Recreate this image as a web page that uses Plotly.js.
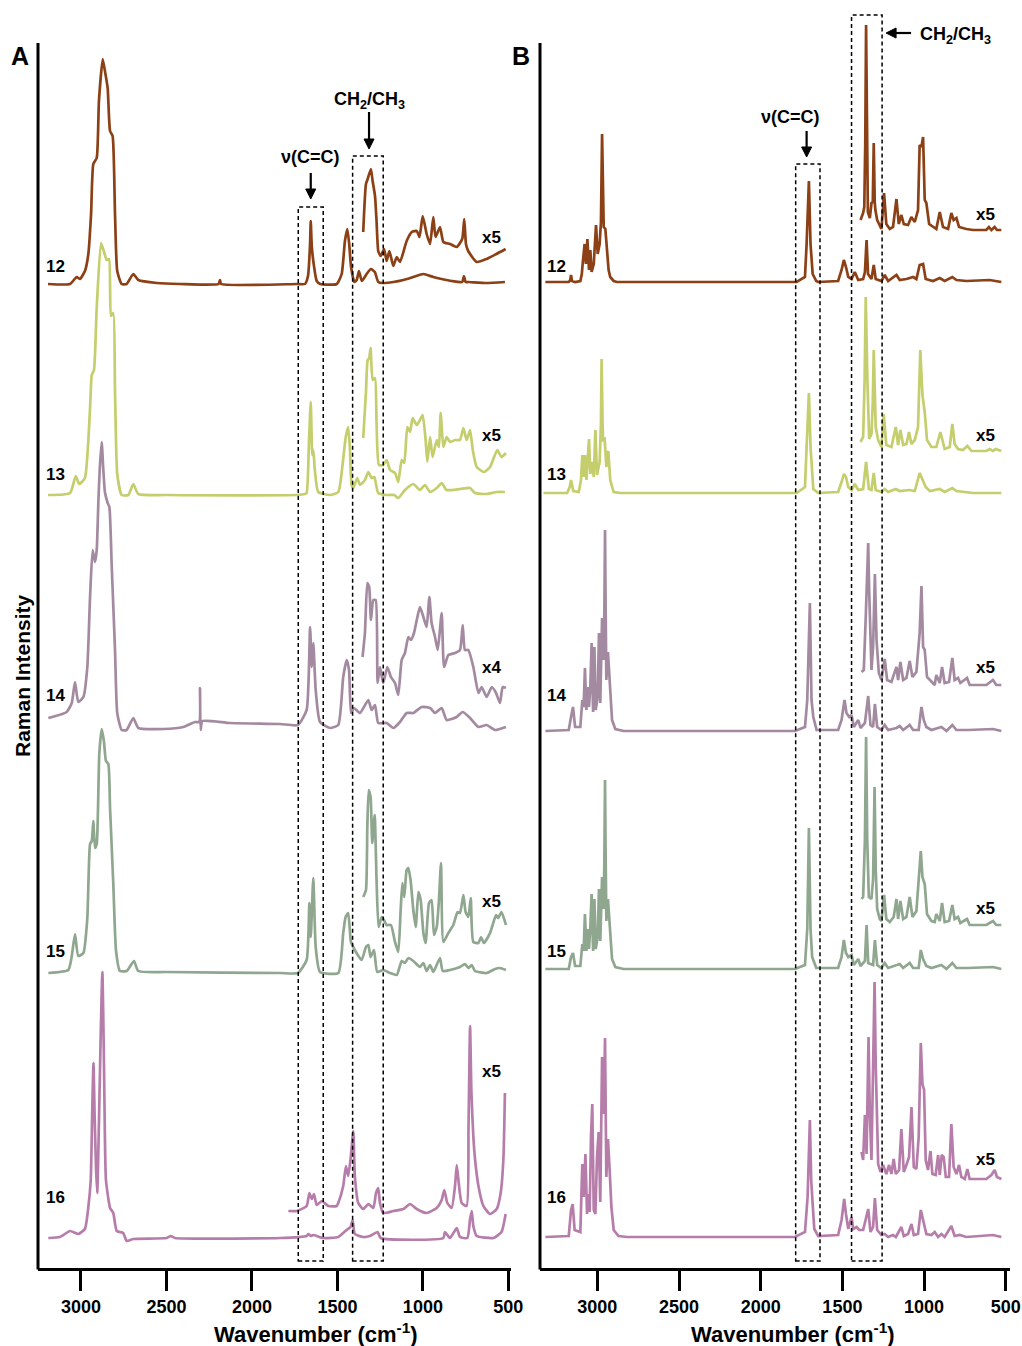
<!DOCTYPE html>
<html>
<head>
<meta charset="utf-8">
<script src="https://cdn.plot.ly/plotly-3.0.1.min.js"></script>
<style>html,body{margin:0;padding:0;background:#fff;}#chart{width:1022px;height:1346px;}</style>
</head>
<body>
<div id="chart"></div>
<script>
// ---------- DATA : [wavenumber (cm-1), intensity above baseline (a.u.)] ----------
const spectraNames = ["12", "13", "14", "15", "16"];
const spectraColors = ["#8c4015", "#c4ce6c", "#a38aa0", "#8fa68f", "#b77daa"];
const scaleLabelsA = ["x5", "x5", "x4", "x5", "x5"];
const scaleLabelsB = ["x5", "x5", "x5", "x5", "x5"];
const baselinesA = [984, 773, 538, 295, 30];
const baselinesB = [986, 775, 537, 299, 31];
const xTicks = [3000, 2500, 2000, 1500, 1000, 500];

// Panel A
const A12 = [[3193,0],[3064,0],[3025,7],[3006,5],[2977,13],[2957,30],[2941,70],[2928,120],[2908,126],[2895,183],[2873,225],[2860,213],[2844,196],[2830,153],[2815,148],[2801,70],[2788,13],[2762,0],[2733,0],[2694,10],[2665,4],[2557,1],[2421,0],[2195,0],[2187,4],[2180,0],[1737,0],[1690,0],[1672,8],[1660,40],[1656,63],[1650,38],[1641,23],[1621,3],[1600,0],[1504,0],[1475,10],[1456,43],[1442,55],[1431,40],[1420,17],[1401,2],[1387,4],[1374,13],[1357,3],[1329,10],[1304,15],[1281,12],[1261,2],[1233,1],[1173,2],[1114,4],[1056,7],[997,10],[939,7],[890,5],[832,3],[770,2],[760,8],[750,2],[735,2],[627,1],[520,2]];
const A12x = [[1349,52],[1333,100],[1323,105],[1304,115],[1294,103],[1280,88],[1271,63],[1261,33],[1247,28],[1227,35],[1212,23],[1196,33],[1173,18],[1153,27],[1134,22],[1095,43],[1065,52],[1036,53],[1020,47],[1001,68],[978,50],[958,40],[939,67],[926,47],[900,57],[880,42],[841,40],[802,37],[770,45],[758,65],[748,40],[735,33],[685,22],[627,25],[570,30],[516,35]];
const A13 = [[3193,0],[3064,2],[3031,19],[3010,11],[2977,17],[2947,87],[2937,120],[2924,125],[2908,187],[2883,252],[2865,243],[2850,235],[2836,236],[2825,179],[2811,182],[2801,104],[2788,21],[2762,0],[2723,0],[2694,11],[2665,1],[2500,0],[1740,0],[1690,1],[1680,2],[1666,55],[1656,93],[1647,40],[1641,45],[1631,23],[1612,3],[1544,0],[1495,3],[1470,30],[1452,57],[1437,68],[1427,47],[1417,10],[1407,7],[1384,17],[1368,10],[1339,15],[1319,23],[1300,17],[1284,18],[1261,2],[1212,0],[1167,0],[1144,-3],[1105,5],[1056,11],[1017,5],[988,10],[958,3],[919,7],[890,12],[861,5],[783,6],[724,7],[695,2],[627,1],[568,3],[520,3]];
const A13x = [[1349,57],[1333,103],[1323,135],[1314,137],[1306,147],[1294,115],[1280,117],[1271,72],[1257,30],[1232,30],[1212,35],[1192,25],[1163,22],[1144,13],[1124,35],[1109,32],[1091,68],[1075,63],[1060,77],[1036,70],[1017,75],[1001,80],[984,55],[974,33],[958,58],[943,38],[919,55],[906,48],[896,82],[880,48],[861,58],[841,53],[812,55],[783,55],[763,67],[744,55],[724,65],[708,45],[685,28],[643,23],[607,28],[565,45],[540,38],[514,42]];
const A14 = [[3191,12],[3084,18],[3054,27],[3035,48],[3016,28],[2986,33],[2963,63],[2947,133],[2932,180],[2918,168],[2908,180],[2898,230],[2890,262],[2879,288],[2870,262],[2860,238],[2844,227],[2834,223],[2820,163],[2801,80],[2788,17],[2762,0],[2733,0],[2694,12],[2665,2],[2518,1],[2402,3],[2333,8],[2308,8],[2304,42],[2300,0],[2290,9],[2128,7],[1836,6],[1731,5],[1680,20],[1660,103],[1650,63],[1641,87],[1627,40],[1602,8],[1544,2],[1495,5],[1466,53],[1446,70],[1432,60],[1420,17],[1403,22],[1368,17],[1319,30],[1300,20],[1280,25],[1261,7],[1212,7],[1173,2],[1134,8],[1095,17],[1056,17],[1007,23],[958,22],[929,17],[890,22],[861,10],[802,13],[767,18],[724,12],[675,3],[627,5],[578,0],[514,3]];
const A14x = [[1353,73],[1339,97],[1325,147],[1314,143],[1304,110],[1290,130],[1276,130],[1265,47],[1251,63],[1232,47],[1208,63],[1187,53],[1163,47],[1144,35],[1124,70],[1105,77],[1085,93],[1070,90],[1052,97],[1032,113],[1017,123],[997,113],[978,103],[962,133],[949,107],[929,93],[913,80],[890,117],[876,63],[851,75],[812,77],[783,80],[767,105],[754,80],[734,80],[705,63],[675,37],[656,43],[627,33],[597,43],[572,37],[549,27],[533,43],[514,42]];
const A15 = [[3191,0],[3074,3],[3054,17],[3035,39],[3016,17],[2986,20],[2963,55],[2947,129],[2937,132],[2928,152],[2918,125],[2908,129],[2893,219],[2879,244],[2866,232],[2854,212],[2840,209],[2830,165],[2811,89],[2795,22],[2772,2],[2733,2],[2690,12],[2665,2],[2500,1],[1836,0],[1731,0],[1680,13],[1664,70],[1656,36],[1641,95],[1627,26],[1602,1],[1495,0],[1466,40],[1452,56],[1437,60],[1421,31],[1407,26],[1388,20],[1358,13],[1333,26],[1319,28],[1306,16],[1286,23],[1267,1],[1232,3],[1192,0],[1153,-2],[1124,12],[1105,10],[1085,15],[1056,12],[1017,6],[997,10],[978,2],[958,8],[939,1],[900,15],[884,2],[841,3],[783,6],[754,9],[734,5],[714,8],[695,2],[627,0],[578,4],[549,5],[514,3]];
const A15x = [[1349,76],[1333,83],[1325,146],[1317,183],[1306,176],[1296,130],[1282,158],[1271,93],[1259,46],[1241,56],[1228,53],[1212,48],[1187,48],[1163,31],[1144,21],[1130,63],[1120,90],[1109,76],[1095,103],[1085,105],[1072,93],[1056,63],[1042,46],[1026,81],[1013,73],[997,40],[984,30],[964,70],[949,73],[935,38],[919,46],[906,73],[894,110],[880,31],[851,40],[822,48],[797,61],[783,60],[763,78],[750,61],[734,56],[720,75],[705,31],[675,30],[660,36],[643,30],[607,40],[572,58],[560,55],[540,61],[514,48]];
const A16 = [[3191,0],[3123,1],[3064,7],[3016,4],[2977,9],[2957,31],[2943,58],[2935,120],[2927,175],[2920,120],[2912,70],[2905,45],[2898,90],[2885,200],[2875,266],[2866,180],[2860,100],[2854,58],[2830,30],[2811,25],[2791,7],[2753,5],[2733,-3],[2694,-1],[2499,0],[2475,2],[2450,0],[1836,0],[1680,2],[1670,4],[1655,2],[1641,3],[1583,0],[1495,1],[1446,8],[1423,11],[1411,18],[1398,4],[1349,1],[1310,2],[1265,6],[1247,0],[880,0],[871,6],[841,0],[802,10],[783,1],[740,0],[724,19],[714,27],[705,12],[685,2],[587,0],[540,6],[516,24]];
const A16x = [[1787,27],[1738,27],[1680,32],[1664,45],[1650,39],[1637,44],[1621,33],[1592,37],[1553,32],[1504,32],[1495,35],[1466,52],[1450,72],[1437,62],[1423,79],[1407,107],[1398,62],[1378,35],[1349,29],[1319,34],[1290,30],[1274,45],[1261,50],[1251,35],[1232,25],[1173,27],[1114,29],[1075,34],[1036,29],[978,25],[919,30],[890,38],[875,48],[857,35],[832,30],[812,52],[802,73],[792,58],[773,35],[744,32],[733,112],[724,212],[716,145],[705,102],[695,79],[675,52],[646,32],[607,24],[568,29],[545,45],[529,79],[520,145]];

// Panel B
const B12 = [[3318,0],[3175,0],[3166,2],[3161,7],[3155,1],[3136,0],[3104,1],[3095,8],[3090,18],[3078,38],[3070,18],[3061,43],[3051,12],[3043,32],[3035,10],[3022,18],[3008,57],[2998,28],[2986,38],[2978,60],[2971,148],[2964,70],[2961,55],[2951,53],[2941,32],[2931,12],[2921,5],[2900,1],[2880,0],[1780,0],[1729,5],[1719,38],[1705,101],[1695,38],[1682,8],[1660,1],[1648,0],[1526,1],[1505,12],[1491,22],[1478,15],[1464,5],[1444,3],[1424,10],[1403,2],[1373,3],[1362,10],[1352,42],[1343,8],[1322,3],[1308,17],[1296,3],[1261,1],[1241,7],[1220,1],[1169,7],[1149,2],[1108,3],[1067,5],[1047,3],[1027,17],[1006,18],[990,3],[945,1],[904,4],[874,1],[827,5],[802,2],[741,1],[599,2],[527,0]];
const B12x = [[1389,62],[1373,69],[1366,75],[1360,140],[1355,257],[1350,140],[1344,70],[1332,64],[1322,79],[1314,80],[1308,139],[1302,80],[1298,72],[1287,62],[1271,57],[1261,53],[1245,89],[1231,58],[1210,53],[1190,55],[1169,83],[1155,58],[1139,67],[1124,58],[1098,57],[1078,65],[1057,60],[1037,72],[1027,137],[1016,135],[1006,145],[996,82],[986,79],[969,58],[925,53],[904,70],[884,55],[853,53],[833,69],[819,62],[802,64],[786,55],[741,53],[700,52],[619,52],[603,55],[588,52],[568,55],[554,52],[527,52]];
const B13 = [[3330,0],[3185,0],[3169,6],[3161,13],[3147,2],[3114,1],[3100,13],[3092,38],[3084,16],[3076,38],[3067,13],[3059,33],[3051,54],[3043,19],[3031,31],[3022,16],[3012,63],[3002,18],[2986,31],[2978,70],[2974,134],[2968,70],[2965,53],[2955,54],[2945,26],[2933,42],[2921,13],[2900,1],[2860,0],[1780,0],[1729,6],[1719,46],[1705,100],[1695,46],[1678,4],[1648,0],[1526,1],[1505,11],[1491,19],[1478,16],[1464,6],[1444,3],[1424,9],[1403,3],[1373,4],[1355,31],[1338,4],[1322,3],[1308,20],[1296,3],[1261,1],[1241,4],[1220,1],[1173,4],[1149,2],[1092,3],[1057,2],[1027,20],[1010,13],[990,6],[965,2],[904,4],[874,1],[827,5],[802,2],[700,0],[527,0]];
const B13x = [[1389,51],[1373,56],[1364,113],[1357,196],[1347,113],[1336,54],[1322,59],[1314,90],[1308,143],[1302,90],[1296,66],[1281,53],[1261,46],[1247,79],[1231,48],[1200,46],[1173,66],[1159,48],[1145,63],[1128,48],[1108,49],[1092,61],[1078,49],[1057,53],[1037,66],[1023,143],[1010,98],[996,81],[982,53],[955,46],[925,46],[900,61],[874,44],[843,46],[827,69],[813,49],[792,44],[762,43],[735,47],[710,42],[619,42],[599,44],[578,42],[562,44],[527,42]];
const B14 = [[3318,0],[3175,1],[3161,14],[3149,24],[3136,4],[3104,4],[3092,31],[3084,24],[3076,63],[3067,21],[3059,44],[3051,24],[3043,44],[3035,88],[3026,19],[3018,84],[3010,21],[2998,34],[2990,98],[2982,28],[2971,113],[2961,71],[2957,120],[2953,201],[2949,120],[2945,51],[2935,79],[2925,51],[2910,11],[2890,2],[2839,0],[1790,0],[1729,4],[1715,31],[1699,128],[1689,31],[1678,14],[1658,1],[1526,1],[1505,11],[1487,31],[1475,18],[1458,14],[1444,16],[1430,4],[1403,11],[1389,3],[1362,8],[1342,35],[1328,6],[1312,4],[1301,27],[1287,4],[1261,1],[1241,6],[1220,1],[1169,3],[1149,5],[1128,1],[1088,6],[1067,1],[1033,1],[1016,24],[1002,11],[986,4],[955,1],[894,4],[863,0],[827,6],[802,1],[731,1],[578,2],[527,0]];
const B14x = [[1383,59],[1369,61],[1357,114],[1348,160],[1342,188],[1336,140],[1332,114],[1322,61],[1312,84],[1301,157],[1291,91],[1277,58],[1261,51],[1241,72],[1226,51],[1200,49],[1169,64],[1159,51],[1145,69],[1128,51],[1108,53],[1088,70],[1071,54],[1047,59],[1027,98],[1016,145],[1006,84],[996,81],[982,54],[955,49],[935,46],[925,56],[904,48],[890,64],[874,48],[847,49],[827,73],[813,51],[792,53],[778,48],[737,53],[721,46],[619,46],[578,51],[558,46],[527,46]];
const B15 = [[3318,0],[3175,0],[3161,12],[3149,16],[3136,3],[3104,3],[3092,25],[3084,18],[3076,55],[3067,18],[3059,40],[3051,20],[3043,42],[3035,75],[3026,18],[3018,70],[3010,20],[2998,32],[2990,80],[2982,28],[2971,92],[2961,60],[2957,110],[2953,189],[2949,110],[2945,48],[2935,70],[2925,45],[2910,10],[2890,2],[2839,0],[1790,0],[1729,4],[1715,40],[1705,141],[1695,40],[1685,12],[1660,1],[1526,1],[1505,12],[1491,29],[1478,16],[1464,12],[1444,14],[1430,4],[1403,10],[1389,3],[1362,8],[1352,44],[1342,6],[1312,4],[1301,29],[1287,4],[1261,1],[1241,6],[1220,1],[1169,4],[1149,5],[1128,1],[1088,6],[1067,1],[1033,1],[1020,19],[1006,10],[986,3],[955,1],[894,4],[863,0],[827,6],[802,1],[731,1],[578,2],[527,0]];
const B15x = [[1383,70],[1373,72],[1362,130],[1355,232],[1348,130],[1338,72],[1322,70],[1312,90],[1303,182],[1296,100],[1287,60],[1271,50],[1261,48],[1245,74],[1231,50],[1210,47],[1186,52],[1169,70],[1159,50],[1145,68],[1128,50],[1108,52],[1088,72],[1071,52],[1047,58],[1027,100],[1020,118],[1010,92],[996,85],[982,55],[955,48],[935,47],[925,55],[904,48],[890,66],[874,47],[847,48],[827,64],[813,50],[792,52],[778,46],[737,50],[721,44],[619,44],[578,48],[558,44],[527,44]];
const B16 = [[3318,0],[3175,1],[3161,27],[3151,33],[3139,7],[3104,5],[3092,73],[3084,40],[3073,83],[3063,23],[3055,43],[3047,25],[3039,100],[3031,133],[3022,27],[3012,23],[3002,80],[2992,105],[2982,35],[2971,180],[2961,123],[2953,199],[2945,60],[2935,98],[2925,68],[2914,30],[2900,7],[2870,1],[2819,0],[1790,0],[1729,5],[1713,40],[1699,117],[1691,57],[1682,33],[1672,8],[1648,1],[1526,2],[1505,17],[1489,38],[1478,23],[1464,8],[1444,20],[1434,8],[1413,10],[1397,7],[1373,7],[1357,17],[1342,28],[1328,5],[1312,10],[1301,39],[1287,7],[1261,2],[1241,3],[1220,0],[1190,2],[1173,0],[1139,10],[1124,1],[1098,3],[1077,13],[1063,2],[1037,3],[1020,27],[1006,17],[986,3],[955,2],[935,5],[914,0],[894,3],[874,0],[833,11],[813,1],[782,2],[741,0],[578,2],[527,0]];
const B16x = [[1383,85],[1373,77],[1362,122],[1352,83],[1340,200],[1332,123],[1322,77],[1312,173],[1303,255],[1296,173],[1281,73],[1267,65],[1251,72],[1231,63],[1214,72],[1200,63],[1186,78],[1173,63],[1153,67],[1139,108],[1124,65],[1108,72],[1092,80],[1077,130],[1063,70],[1047,68],[1033,100],[1020,194],[1010,153],[1000,147],[990,77],[976,67],[961,86],[949,63],[929,62],[914,82],[904,62],[892,82],[880,80],[867,60],[847,60],[833,113],[819,70],[802,63],[786,72],[772,60],[751,58],[735,68],[721,58],[619,58],[588,62],[568,67],[554,60],[527,58]];

// annotation boxes (wavenumber ranges) and arrow positions (wavenumber)
const boxCC_A = [1729, 1583], boxCH_A = [1411, 1232];
const boxCC_B = [1786, 1637], boxCH_B = [1444, 1257];
const arrowCC_A = 1656, arrowCH_A = 1315, arrowCC_B = 1719;

// ---------- BUILD ----------
const W = 1022, H = 1346;
const px = v => v / W;
const py = v => 1 - v / H;
const FONT = "Liberation Sans, Arial, sans-serif";
const RANGE_A = [3251.5, 484.5], DOM_A = [38, 511];
const RANGE_B = [3351, 474], DOM_B = [540, 1010];
const toPxA = v => DOM_A[0] + (RANGE_A[0] - v) / (RANGE_A[0] - RANGE_A[1]) * (DOM_A[1] - DOM_A[0]);
const toPxB = v => DOM_B[0] + (RANGE_B[0] - v) / (RANGE_B[0] - RANGE_B[1]) * (DOM_B[1] - DOM_B[0]);

const panelA = [A12, A13, A14, A15, A16];
const panelAx = [A12x, A13x, A14x, A15x, A16x];
const panelB = [B12, B13, B14, B15, B16];
const panelBx = [B12x, B13x, B14x, B15x, B16x];

function trace(pairs, base, color, xa, ya, smooth) {
  return {
    type: "scatter", mode: "lines",
    x: pairs.map(p => p[0]), y: pairs.map(p => p[1] + base),
    line: smooth ? {color: color, width: 2.7, shape: "spline", smoothing: 0.5} : {color: color, width: 2.7},
    xaxis: xa, yaxis: ya, hoverinfo: "skip"
  };
}
const traces = [];
for (let i = 0; i < 5; i++) {
  traces.push(trace(panelA[i], baselinesA[i], spectraColors[i], "x", "y", true));
  traces.push(trace(panelAx[i], baselinesA[i], spectraColors[i], "x", "y", true));
  traces.push(trace(panelB[i], baselinesB[i], spectraColors[i], "x2", "y2", false));
  traces.push(trace(panelBx[i], baselinesB[i], spectraColors[i], "x2", "y2", false));
}

const labelYs = [267, 474, 695, 951, 1197];
const scaleYsA = [237, 436, 667, 902, 1071];
const scaleYsB = [214, 436, 667, 908, 1159];

const ann = [];
function txt(t, x, y, size, extra) {
  ann.push(Object.assign({text: t, x: px(x), y: py(y), xref: "paper", yref: "paper",
    showarrow: false, xanchor: "center", yanchor: "middle",
    font: {family: FONT, size: size, color: "#000"}}, extra || {}));
}
for (let i = 0; i < 5; i++) {
  txt("<b>" + spectraNames[i] + "</b>", 55, labelYs[i], 17);
  txt("<b>" + spectraNames[i] + "</b>", 556, labelYs[i], 17);
  txt("<b>" + scaleLabelsA[i] + "</b>", 491, scaleYsA[i], 17);
  txt("<b>" + scaleLabelsB[i] + "</b>", 985, scaleYsB[i], 17);
}
txt("<b>A</b>", 20, 56, 25);
txt("<b>B</b>", 521, 56, 25);
txt("<b>Raman Intensity</b>", 22, 676, 21, {textangle: -90});
txt("<b>Wavenumber (cm<sup>-1</sup>)</b>", 316, 1333, 22);
txt("<b>Wavenumber (cm<sup>-1</sup>)</b>", 793, 1333, 22);
txt("<b>ν(C=C)</b>", 310, 157, 18);
txt("<b>CH<sub>2</sub>/CH<sub>3</sub></b>", 369, 101, 18);
txt("<b>ν(C=C)</b>", 790, 117, 18);
txt("<b>CH<sub>2</sub>/CH<sub>3</sub></b>", 918, 35, 18, {xanchor: "left"});

const shapes = [];
function box(xref, r, topPix) {
  shapes.push({type: "rect", xref: xref, yref: "paper", x0: r[0], x1: r[1], y0: py(1261), y1: py(topPix),
    line: {color: "#000", width: 1.5, dash: "4px,3px"}, fillcolor: "rgba(0,0,0,0)"});
}
box("x", boxCC_A, 207);
box("x", boxCH_A, 156);
box("x2", boxCC_B, 164);
box("x2", boxCH_B, 15);
// vertical axis lines
[DOM_A[0], DOM_B[0]].forEach(xp => shapes.push({type: "line", xref: "paper", yref: "paper",
  x0: px(xp), x1: px(xp), y0: py(1269.5), y1: py(43), line: {color: "#000", width: 3}}));

// arrows (shaft + filled head), positions in pixels
function downArrow(xp, yTail, yTip) {
  shapes.push({type: "line", xref: "paper", yref: "paper", x0: px(xp), x1: px(xp), y0: py(yTail), y1: py(yTip - 8),
    line: {color: "#000", width: 2.2}});
  shapes.push({type: "path", xref: "paper", yref: "paper",
    path: `M ${px(xp - 5)} ${py(yTip - 10)} L ${px(xp + 5)} ${py(yTip - 10)} L ${px(xp)} ${py(yTip)} Z`,
    fillcolor: "#000", line: {color: "#000", width: 1}});
}
function leftArrow(xTip, xTail, yp) {
  shapes.push({type: "line", xref: "paper", yref: "paper", x0: px(xTail), x1: px(xTip + 8), y0: py(yp), y1: py(yp),
    line: {color: "#000", width: 2.2}});
  shapes.push({type: "path", xref: "paper", yref: "paper",
    path: `M ${px(xTip + 10)} ${py(yp - 5)} L ${px(xTip + 10)} ${py(yp + 5)} L ${px(xTip)} ${py(yp)} Z`,
    fillcolor: "#000", line: {color: "#000", width: 1}});
}
downArrow(toPxA(arrowCC_A), 173, 199);
downArrow(toPxA(arrowCH_A), 112, 149);
downArrow(toPxB(arrowCC_B), 131, 157);
leftArrow(toPxB(boxCH_B[1]) + 4, toPxB(boxCH_B[1]) + 29, 33);

const xaxisBase = {
  showgrid: false, zeroline: false, showline: true, linewidth: 3, linecolor: "#000",
  ticks: "outside", ticklen: 20, tickwidth: 3, tickcolor: "#000",
  tickmode: "array", tickvals: xTicks, ticktext: xTicks.map(v => "<b>" + v + "</b>"),
  tickfont: {family: FONT, size: 18, color: "#000"}, fixedrange: true
};
const yaxisBase = {domain: [1 - 1268 / H, 1], range: [0, 1268], showgrid: false, zeroline: false,
  showline: false, showticklabels: false, ticks: "", fixedrange: true};

const layout = {
  width: W, height: H, margin: {l: 0, r: 0, t: 0, b: 0},
  paper_bgcolor: "#fff", plot_bgcolor: "#fff", showlegend: false,
  xaxis: Object.assign({}, xaxisBase, {domain: [DOM_A[0] / W, DOM_A[1] / W], range: RANGE_A, anchor: "y"}),
  xaxis2: Object.assign({}, xaxisBase, {domain: [DOM_B[0] / W, DOM_B[1] / W], range: RANGE_B, anchor: "y2"}),
  yaxis: Object.assign({}, yaxisBase, {anchor: "x"}),
  yaxis2: Object.assign({}, yaxisBase, {anchor: "x2"}),
  annotations: ann, shapes: shapes
};
Plotly.newPlot("chart", traces, layout, {staticPlot: true, displayModeBar: false});
</script>
</body>
</html>
